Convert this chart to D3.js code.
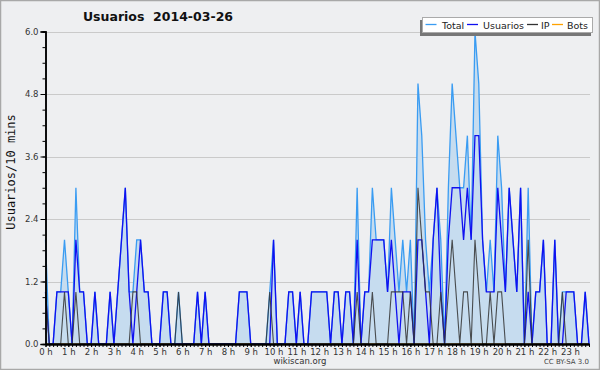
<!DOCTYPE html>
<html><head><meta charset="utf-8">
<script src="https://cdn.jsdelivr.net/npm/d3@7"></script>
<style>body{margin:0;background:#fff}svg{display:block}</style>
</head><body>
<svg id="c" width="600" height="370"></svg>
<script>
const title = "Usuarios  2014-03-26";
const yLabel = "Usuarios/10 mins";
const seriesNames = ["Total", "Usuarios", "IP", "Bots"];
const yTickLabels = [0, 1.2, 2.4, 3.6, 4.8, 6.0];
const hourLabels = ["0 h","1 h","2 h","3 h","4 h","5 h","6 h","7 h","8 h","9 h","10 h","11 h","12 h","13 h","14 h","15 h","16 h","17 h","18 h","19 h","20 h","21 h","22 h","23 h"];
// 10-minute slots, 0..143
const usuarios = [
1,0,0,1,1,1,1,0,2,1, 1,0,0,1,0,0,0,1,0,1,
2,3,1,0,1,2,1,1,0,0, 0,1,1,0,0,0,0,0,0,0,
1,0,1,0,0,0,0,0,0,0, 0,1,1,1,0,0,0,0,0,0,
2,0,0,0,1,1,0,1,0,0, 1,1,1,1,1,0,1,1,0,1,
1,0,2,0,1,1,2,2,2,2, 1,2,1,0,1,1,1,0,2,2,
1,0,2,3,1,0,2,3,3,3, 2,3,2,4,4,2,1,1,1,3,
2,1,3,2,1,3,0,1,0,1, 1,2,0,0,2,0,0,1,1,1,
0,0,1,0];
const ip = [
1,0,0,0,0,1,0,0,1,0, 0,0,0,0,0,0,0,0,0,0,
0,0,0,1,1,0,0,0,0,0, 0,0,0,0,0,1,0,0,0,0,
0,0,0,0,0,0,0,0,0,0, 0,0,0,0,0,0,0,0,0,1,
0,0,0,0,0,0,0,0,0,0, 0,0,0,0,0,0,0,0,0,0,
0,0,1,0,0,0,1,0,0,0, 0,1,1,1,1,0,1,0,3,2,
1,1,0,0,1,0,1,2,1,0, 1,1,0,2,1,0,0,1,0,1,
1,0,0,0,0,0,0,2,0,0, 0,0,0,0,0,0,1,0,0,0,
0,0,0,0];
const total = [
2,0,0,1,1,2,1,0,3,1, 1,0,0,1,0,0,0,1,0,1,
2,3,1,1,2,2,1,1,0,0, 0,1,1,0,0,1,0,0,0,0,
1,0,1,0,0,0,0,0,0,0, 0,1,1,1,0,0,0,0,0,1,
2,0,0,0,1,1,0,1,0,0, 1,1,1,1,1,0,1,1,0,1,
1,0,3,0,1,1,3,2,2,2, 1,3,2,1,2,1,2,0,5,4,
2,1,2,3,2,0,3,5,4,3, 3,4,2,6,5,2,1,2,1,4,
3,1,3,2,1,3,0,3,0,1, 1,2,0,0,2,0,1,1,1,1,
0,0,1,0];
const bots = [
0,0,0,0,0,0,0,0,0,0, 0,0,0,0,0,0,0,0,0,0,
0,0,0,0,0,0,0,0,0,0, 0,0,0,0,0,0,0,0,0,0,
0,0,0,0,0,0,0,0,0,0, 0,0,0,0,0,0,0,0,0,0,
0,0,0,0,0,0,0,0,0,0, 0,0,0,0,0,0,0,0,0,0,
0,0,0,0,0,0,0,0,0,0, 0,0,0,0,0,0,0,0,0,0,
0,0,0,0,0,0,0,0,0,0, 0,0,0,0,0,0,0,0,0,0,
0,0,0,0,0,0,0,0,0,0, 0,0,0,0,0,0,0,0,0,0,
0,0,0,0];

const colors = {Total:"#3a9cf2", Usuarios:"#1010f0", IP:"#333333", Bots:"#ffa200"};
const W = 600, H = 370;
const svg = d3.select("#c");
svg.append("rect").attr("x",0.5).attr("y",0.5).attr("width",W-1).attr("height",H-1)
  .attr("fill","#eeeff1").attr("stroke","#a8a8a8").attr("stroke-width",1.5);

const x = d3.scaleLinear().domain([0,143]).range([45.5,589]);
const y = d3.scaleLinear().domain([0,6]).range([344,31.5]);

// grid
svg.append("g").selectAll("line").data(yTickLabels.filter(d=>d>0)).join("line")
  .attr("x1",45.5).attr("x2",590).attr("y1",d=>Math.round(y(d))+0.5).attr("y2",d=>Math.round(y(d))+0.5)
  .attr("stroke","#cacaca").attr("stroke-width",1);

// area under total
const idx = d3.range(144);
svg.append("path").datum(idx)
  .attr("d", d3.area().x(i=>x(i)).y0(y(0)).y1(i=>y(total[i])))
  .attr("fill","#c6dcef");

const line = arr => d3.line().x(i=>x(i)).y(i=>y(arr[i]));
svg.append("path").datum(idx).attr("d",line(bots)).attr("fill","none").attr("stroke",colors.Bots).attr("stroke-width",1.2);
svg.append("path").datum(idx).attr("d",line(total)).attr("fill","none").attr("stroke",colors.Total).attr("stroke-width",1.3);
svg.append("path").datum(idx).attr("d",line(usuarios)).attr("fill","none").attr("stroke",colors.Usuarios).attr("stroke-width",1.3);
svg.append("path").datum(idx).attr("d",line(ip)).attr("fill","none").attr("stroke",colors.IP).attr("stroke-width",1.1).attr("stroke-opacity",0.85);

// y axis
const minor = d3.range(0, 21).map(k => k*0.3);
const gy = svg.append("g").attr("transform","translate(45.5,0)");
gy.call(d3.axisLeft(y).tickValues(minor).tickSize(3).tickFormat(""));
gy.append("g").call(d3.axisLeft(y).tickValues(yTickLabels).tickSize(5).tickPadding(2).tickFormat(d3.format(".1f")));
gy.selectAll("path.domain").attr("stroke","#000").attr("stroke-width",1.5);
gy.selectAll(".tick line").attr("stroke","#000");
gy.selectAll("text").attr("font-family","DejaVu Sans").attr("font-size",8.5).attr("fill","#333");

// x axis
const gx = svg.append("g").attr("transform","translate(0,344)");
gx.call(d3.axisBottom(x).tickValues(idx).tickSize(3).tickSizeOuter(0).tickFormat(""));
gx.append("g").call(d3.axisBottom(x).tickValues(d3.range(0,144,6)).tickSize(3).tickSizeOuter(0).tickPadding(2)
  .tickFormat(i => hourLabels[i/6]));
gx.selectAll("path.domain").attr("stroke","#000").attr("stroke-width",2);
gx.selectAll(".tick line").attr("stroke","#000");
gx.selectAll("text").attr("font-family","DejaVu Sans").attr("font-size",8.5).attr("fill","#333");

// title
svg.append("text").attr("x",158).attr("y",21).attr("text-anchor","middle")
  .attr("font-family","DejaVu Sans").attr("font-weight","bold").attr("font-size",12.5)
  .attr("fill","#111").attr("xml:space","preserve").style("white-space","pre").text(title);

// y label
svg.append("text").attr("transform","translate(15,172) rotate(-90)").attr("text-anchor","middle")
  .attr("font-family","DejaVu Sans Mono").attr("font-size",12).attr("fill","#111").text(yLabel);

// legend
const lg = svg.append("g");
lg.append("rect").attr("x",420).attr("y",20).attr("width",171).attr("height",16).attr("fill","#777");
lg.append("rect").attr("x",422.5).attr("y",17.5).attr("width",170).attr("height",15).attr("fill","#fff").attr("stroke","#aaa");
const items = [{n:"Total",lx:425.5,tx:442},{n:"Usuarios",lx:467,tx:483},{n:"IP",lx:527,tx:541},{n:"Bots",lx:552,tx:567}];
items.forEach(it => {
  lg.append("line").attr("x1",it.lx).attr("x2",it.lx+11).attr("y1",24.5).attr("y2",24.5).attr("stroke",colors[it.n]).attr("stroke-width",1.3);
  lg.append("text").attr("x",it.tx).attr("y",28.5).attr("font-family","DejaVu Sans").attr("font-size",9.5).attr("fill","#222").text(it.n);
});

// footer
svg.append("text").attr("x",300).attr("y",364).attr("text-anchor","middle").attr("font-family","DejaVu Sans")
  .attr("font-size",8.5).attr("fill","#333").text("wikiscan.org");
svg.append("text").attr("x",589).attr("y",364).attr("text-anchor","end").attr("font-family","DejaVu Sans")
  .attr("font-size",7).attr("fill","#444").text("CC BY-SA 3.0");
</script>
</body></html>
